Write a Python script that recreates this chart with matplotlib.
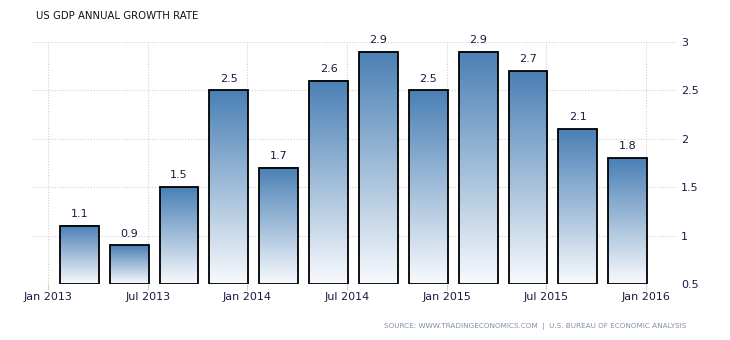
import numpy as np
import matplotlib
matplotlib.use("Agg")
import matplotlib.pyplot as plt
from matplotlib.colors import LinearSegmentedColormap

values = [1.1, 0.9, 1.5, 2.5, 1.7, 2.6, 2.9, 2.5, 2.9, 2.7, 2.1, 1.8]
value_labels = ["1.1", "0.9", "1.5", "2.5", "1.7", "2.6", "2.9", "2.5", "2.9", "2.7", "2.1", "1.8"]
tick_labels = ["Jan 2013", "Jul 2013", "Jan 2014", "Jul 2014", "Jan 2015", "Jul 2015", "Jan 2016"]
y_ticks = [0.5, 1, 1.5, 2, 2.5, 3]
y_tick_labels = ["0.5", "1", "1.5", "2", "2.5", "3"]

fig = plt.figure(figsize=(7.3, 3.4), dpi=100)
ax = fig.add_axes([32/730, 1-284/340, (677-32)/730, (284-42)/340])

ymin, ymax = 0.5, 3.0
xpos = np.arange(len(values)) + 0.63
width = 0.78
cmap = LinearSegmentedColormap.from_list("g", ["#f8fafd", "#4a80b5"])
grad = np.linspace(0, 1, 256).reshape(-1, 1)
for x, v in zip(xpos, values):
    ax.imshow(grad, extent=(x - width/2, x + width/2, ymin, v), origin="lower",
              cmap=cmap, aspect="auto", zorder=2, interpolation="bicubic")
ax.bar(xpos, np.array(values) - ymin, bottom=ymin, width=width, facecolor="none",
       edgecolor="black", linewidth=1.3, zorder=3)
for x, v, t in zip(xpos, values, value_labels):
    ax.text(x, v + 0.07, t, ha="center", va="bottom", fontsize=8, color="#1a1a40", zorder=4)

ax.set_xlim(-0.32, 12.62)
ax.set_ylim(ymin, ymax)
ax.set_xticks(np.arange(len(tick_labels)) * 2)
ax.set_xticklabels(tick_labels, fontsize=8, color="#1a1a40")
ax.set_yticks(y_ticks)
ax.set_yticklabels(y_tick_labels, fontsize=8, color="#1a1a40")
ax.yaxis.tick_right()
ax.tick_params(axis="y", length=0, pad=3)
ax.tick_params(axis="x", length=4, color="#d0d0d0", pad=2)
for s in ax.spines.values():
    s.set_visible(False)
ax.grid(True, color="#d0d0d0", linestyle=(0, (1, 1.5)), linewidth=0.8, zorder=0)
ax.set_axisbelow(True)

fig.text(36/730, 1-16/340, "US GDP ANNUAL GROWTH RATE", fontsize=7.3, color="#111111",
         ha="left", va="center")
fig.text(686/730, 1-326/340, "SOURCE: WWW.TRADINGECONOMICS.COM  |  U.S. BUREAU OF ECONOMIC ANALYSIS",
         fontsize=5.2, color="#8090a8", ha="right", va="center")

fig.savefig("out.png", dpi=100)
